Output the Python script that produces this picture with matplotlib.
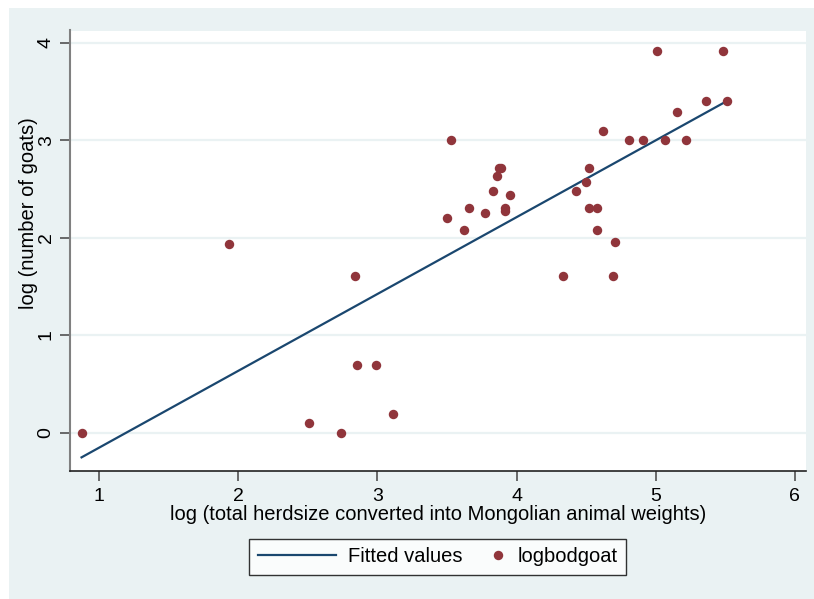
import matplotlib.pyplot as plt
from matplotlib.patches import Rectangle
from matplotlib.legend_handler import HandlerLine2D

# data
log_herd = [0.873, 1.93, 2.51, 2.74, 2.84, 2.85, 2.99, 3.11, 3.50, 3.53,
            3.62, 3.66, 3.77, 3.83, 3.86, 3.87, 3.89, 3.92, 3.92, 3.95,
            4.33, 4.43, 4.50, 4.52, 4.52, 4.58, 4.58, 4.62, 4.69, 4.71,
            4.81, 4.91, 5.01, 5.07, 5.15, 5.22, 5.36, 5.48, 5.51]
log_goat = [0.00, 1.93, 0.10, 0.00, 1.61, 0.69, 0.69, 0.19, 2.20, 3.00,
            2.08, 2.30, 2.25, 2.48, 2.63, 2.71, 2.71, 2.30, 2.27, 2.44,
            1.61, 2.48, 2.57, 2.71, 2.30, 2.30, 2.08, 3.09, 1.61, 1.95,
            3.00, 3.00, 3.91, 3.00, 3.29, 3.00, 3.40, 3.91, 3.40]
fit_x = [0.873, 5.51]
fit_y = [-0.255, 3.40]

x_ticks = [1, 2, 3, 4, 5, 6]
y_ticks = [0, 1, 2, 3, 4]

bg = '#eaf2f3'
navy = '#1a476f'
maroon = '#90353b'


# Stata puts the legend marker right next to its label, not centred in the key.
# With numpoints=1 matplotlib marks the middle of xdata, so centre xdata there.
class RightMarker(HandlerLine2D):
    def get_xdata(self, legend, xdescent, ydescent, width, height, fontsize):
        xm = -xdescent + width - 0.35 * fontsize
        return [xm - 1, xm + 1], [xm]


plt.rcParams['font.family'] = ['Liberation Sans', 'DejaVu Sans']

fig = plt.figure(figsize=(8.14, 5.99), dpi=100, facecolor='white')
fig.patches.append(Rectangle((9 / 814, 0), 1, 1 - 8 / 599, transform=fig.transFigure,
                             facecolor=bg, edgecolor='none', zorder=-10))

ax = fig.add_axes([70 / 814, 1 - 471 / 599, 736 / 814, 440.5 / 599])
ax.set_facecolor('white')

ax.plot(fit_x, fit_y, color=navy, lw=1.6, label='Fitted values', zorder=3)
pts, = ax.plot(log_herd, log_goat, 'o', color=maroon, ms=6.8, mec='none',
               label='logbodgoat', zorder=4)

ax.set_xlim(0.79, 6.08)
ax.set_ylim(-0.395, 4.125)
ax.set_xticks(x_ticks)
ax.set_yticks(y_ticks)
ax.grid(axis='y', color=bg, lw=1.6, zorder=0)
ax.set_axisbelow(True)

for side in ['top', 'right']:
    ax.spines[side].set_visible(False)
ax.spines['left'].set_color('#808080')
ax.spines['left'].set_linewidth(1.5)
ax.spines['bottom'].set_color('#222222')
ax.spines['bottom'].set_linewidth(1.2)

ax.tick_params(axis='both', direction='out', length=7, width=1.1, color='#444444',
               labelsize=14)
ax.tick_params(axis='x', pad=5)
ax.tick_params(axis='y', pad=4)
for lbl in ax.get_yticklabels():
    lbl.set_rotation(90)
    lbl.set_va('center')

ax.set_xlabel('log (total herdsize converted into Mongolian animal weights)',
              fontsize=14.5, labelpad=0)
ax.set_ylabel('log (number of goats)', fontsize=14.5, labelpad=0)
ax.yaxis.label.set_y(0.586)  # Stata centres it a bit above the middle

leg = fig.legend(loc='center', bbox_to_anchor=(437.5 / 814, 1 - 557 / 599), ncol=2,
                 fontsize=14.5, frameon=True, fancybox=False, edgecolor='black',
                 handlelength=3.9, columnspacing=-1.8, borderpad=0.42,
                 handletextpad=0.6, handler_map={pts: RightMarker()})
leg.get_frame().set_linewidth(1.0)
leg.legend_handles[1].set_markersize(6.8)

fig.savefig('out.png', dpi=100, facecolor=fig.get_facecolor())
